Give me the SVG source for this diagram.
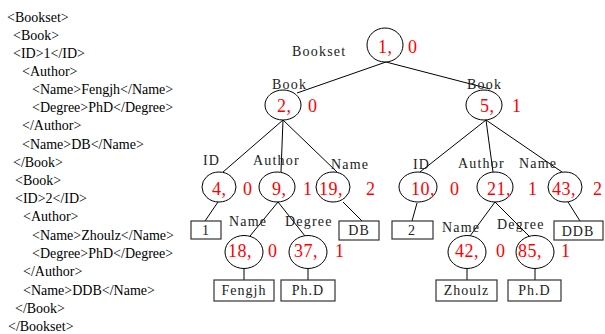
<svg xmlns="http://www.w3.org/2000/svg" width="605" height="334" viewBox="0 0 605 334">
<style>
.x{font-family:"Liberation Serif","Times New Roman",serif;font-size:14px;fill:#000}
.l{font-family:"Liberation Serif","Times New Roman",serif;font-size:14px;fill:#222;letter-spacing:1.2px}
.r{font-family:"Liberation Serif","Times New Roman",serif;font-size:18px;fill:#f00;letter-spacing:0.5px}
.b{font-family:"Liberation Serif","Times New Roman",serif;font-size:14px;fill:#222;letter-spacing:1px;text-anchor:middle}
ellipse{fill:#fff;stroke:#000;stroke-width:1}
rect{fill:#fff;stroke:#333;stroke-width:1.2}
.c line{stroke:#000;stroke-width:1}
</style>
<g id="xml">
<text class="x" x="7" y="22">&lt;Bookset&gt;</text>
<text class="x" x="13" y="40">&lt;Book&gt;</text>
<text class="x" x="13" y="58">&lt;ID&gt;1&lt;/ID&gt;</text>
<text class="x" x="22" y="76">&lt;Author&gt;</text>
<text class="x" x="32" y="94">&lt;Name&gt;Fengjh&lt;/Name&gt;</text>
<text class="x" x="32" y="112">&lt;Degree&gt;PhD&lt;/Degree&gt;</text>
<text class="x" x="22" y="130">&lt;/Author&gt;</text>
<text class="x" x="22" y="149">&lt;Name&gt;DB&lt;/Name&gt;</text>
<text class="x" x="13" y="167">&lt;/Book&gt;</text>
<text class="x" x="15" y="185">&lt;Book&gt;</text>
<text class="x" x="15" y="203">&lt;ID&gt;2&lt;/ID&gt;</text>
<text class="x" x="23" y="221">&lt;Author&gt;</text>
<text class="x" x="32" y="240">&lt;Name&gt;Zhoulz&lt;/Name&gt;</text>
<text class="x" x="32" y="258">&lt;Degree&gt;PhD&lt;/Degree&gt;</text>
<text class="x" x="23" y="276">&lt;/Author&gt;</text>
<text class="x" x="23" y="295">&lt;Name&gt;DDB&lt;/Name&gt;</text>
<text class="x" x="15" y="313">&lt;/Book&gt;</text>
<text class="x" x="8" y="331">&lt;/Bookset&gt;</text>
</g>
<g class="c" id="connectors">
<line x1="386" y1="62" x2="297" y2="93"/>
<line x1="386" y1="62" x2="490" y2="89"/>
<line x1="283" y1="120" x2="223" y2="172"/>
<line x1="283" y1="120" x2="281" y2="172"/>
<line x1="283" y1="120" x2="337" y2="172"/>
<line x1="486" y1="120" x2="420" y2="172"/>
<line x1="486" y1="120" x2="493" y2="172"/>
<line x1="486" y1="120" x2="562" y2="172"/>
<line x1="218" y1="202" x2="205" y2="221"/>
<line x1="343" y1="202" x2="362" y2="221"/>
<line x1="278" y1="202" x2="250" y2="236"/>
<line x1="278" y1="202" x2="305" y2="236"/>
<line x1="417" y1="203" x2="412" y2="221"/>
<line x1="568" y1="202" x2="580" y2="221"/>
<line x1="495" y1="202" x2="470" y2="236"/>
<line x1="495" y1="202" x2="530" y2="237"/>
<line x1="244" y1="268" x2="244" y2="280"/>
<line x1="308" y1="268" x2="308" y2="280"/>
<line x1="467" y1="268" x2="467" y2="280"/>
<line x1="535" y1="268" x2="535" y2="280"/>
</g>
<g id="n1"><ellipse cx="385" cy="45" rx="18" ry="17"/><text class="r" x="378" y="53">1,</text><text class="r" x="408" y="53">0</text><text class="l" x="292" y="56">Bookset</text></g>
<g id="n2"><ellipse cx="283" cy="105" rx="18" ry="15"/><text class="r" x="277" y="112">2,</text><text class="r" x="308" y="112">0</text><text class="l" x="272" y="89">Book</text></g>
<g id="n5"><ellipse cx="484" cy="105" rx="18" ry="15"/><text class="r" x="480" y="112">5,</text><text class="r" x="512" y="112">1</text><text class="l" x="467" y="89">Book</text></g>
<g id="n4"><ellipse cx="219" cy="187" rx="17" ry="15"/><text class="r" x="212" y="195">4,</text><text class="r" x="243" y="195">0</text><text class="l" x="203" y="165">ID</text></g>
<g id="n9"><ellipse cx="277" cy="187" rx="18" ry="15"/><text class="r" x="272" y="195">9,</text><text class="r" x="303" y="195">1</text><text class="l" x="253" y="165">Author</text></g>
<g id="n19"><ellipse cx="333" cy="187" rx="17" ry="15"/><text class="r" x="319" y="195">19,</text><text class="r" x="366" y="195">2</text><text class="l" x="331" y="169">Name</text></g>
<g id="n10"><ellipse cx="418" cy="187" rx="19" ry="15"/><text class="r" x="411" y="195">10,</text><text class="r" x="450" y="195">0</text><text class="l" x="413" y="169">ID</text></g>
<g id="n21"><ellipse cx="495" cy="187" rx="18" ry="15"/><text class="r" x="487" y="195">21,</text><text class="r" x="528" y="195">1</text><text class="l" x="458" y="168">Author</text></g>
<g id="n43"><ellipse cx="565" cy="187" rx="17" ry="15"/><text class="r" x="552" y="195">43,</text><text class="r" x="593" y="195">2</text><text class="l" x="519" y="168">Name</text></g>
<g id="v1"><rect x="191" y="221" width="30" height="18"/><text class="b" x="206" y="235">1</text></g>
<g id="vDB"><rect x="339" y="221" width="40" height="19"/><text class="b" x="359" y="235">DB</text></g>
<g id="v2"><rect x="392" y="221" width="41" height="18"/><text class="b" x="412" y="235">2</text></g>
<g id="vDDB"><rect x="554" y="221" width="49" height="19"/><text class="b" x="578" y="236">DDB</text></g>
<g id="n18"><ellipse cx="244" cy="252" rx="19" ry="16.5"/><text class="r" x="228" y="257">18,</text><text class="r" x="268" y="257">0</text><text class="l" x="229" y="226">Name</text></g>
<g id="n37"><ellipse cx="308" cy="252" rx="19" ry="16.5"/><text class="r" x="294" y="257">37,</text><text class="r" x="335" y="257">1</text><text class="l" x="285" y="226">Degree</text></g>
<g id="n42"><ellipse cx="467" cy="252" rx="19" ry="16.5"/><text class="r" x="455" y="257">42,</text><text class="r" x="496" y="257">0</text><text class="l" x="442" y="232">Name</text></g>
<g id="n85"><ellipse cx="535" cy="252" rx="19" ry="16.5"/><text class="r" x="518" y="257">85,</text><text class="r" x="561" y="257">1</text><text class="l" x="497" y="229">Degree</text></g>
<g id="vFengjh"><rect x="214" y="280" width="60" height="21"/><text class="b" x="244" y="295">Fengjh</text></g>
<g id="vPhD1"><rect x="281" y="280" width="54" height="21"/><text class="b" x="308" y="295">Ph.D</text></g>
<g id="vZhoulz"><rect x="436" y="280" width="61" height="21"/><text class="b" x="466.5" y="295">Zhoulz</text></g>
<g id="vPhD2"><rect x="508" y="280" width="53" height="21"/><text class="b" x="534.5" y="295">Ph.D</text></g>
</svg>
